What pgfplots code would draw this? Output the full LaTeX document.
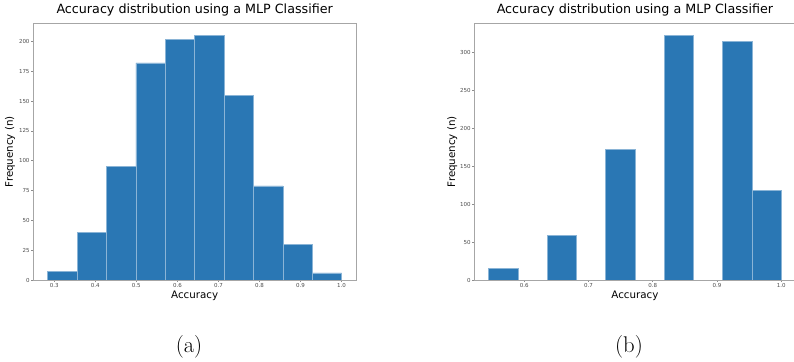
\documentclass[border=0pt]{standalone}
\usepackage{pgfplots}
\pgfplotsset{compat=1.18}
\usepackage{fontspec}
\newfontfamily\dejavu{DejaVu Sans}
\definecolor{barblue}{HTML}{2A77B4}
\begin{document}
\begin{tikzpicture}
\useasboundingbox (0bp,0bp) rectangle (794bp,362bp);
\pgfplotsset{hist/.style={
  scale only axis, anchor=south west, height=256.7bp, ymin=0,
  axis line style={black!35, line width=0.9bp},
  tick style={black!45, line width=0.6bp},
  tick align=outside, major tick length=1.8bp, tick pos=left,
  scaled ticks=false,
  /pgf/number format/assume math mode=true,
  ticklabel style={font=\dejavu\fontsize{5.5bp}{6bp}\selectfont, text=black!70, inner sep=1.5bp},
  xticklabel style={/pgf/number format/fixed, /pgf/number format/fixed zerofill, /pgf/number format/precision=1},
  yticklabel style={/pgf/number format/fixed, /pgf/number format/precision=0},
  title style={at={(axis description cs:0.5,1.013)}, anchor=base, inner sep=0pt, font=\dejavu\fontsize{12.7bp}{15bp}\selectfont},
  xlabel style={at={(axis description cs:0.5,-0.074)}, anchor=base, inner sep=0pt, font=\dejavu\fontsize{10.3bp}{12bp}\selectfont},
  ylabel style={anchor=base, inner sep=0pt, font=\dejavu\fontsize{10.3bp}{12bp}\selectfont},
  title={Accuracy distribution using a MLP Classifier},
  xlabel={Accuracy}, ylabel={Frequency (n)},
}}
\begin{axis}[hist, at={(33bp,82bp)}, width=323.3bp,
  xmin=0.2482, xmax=1.0358, ymax=215.25,
  xtick={0.3,0.4,...,1.0}, ytick={0,25,...,200},
  ylabel style={at={(axis description cs:-0.062,0.5)}}]
\addplot[ybar interval, fill=barblue, draw=barblue!55!white, line width=0.45bp] coordinates {
(0.284,7) (0.3556,40) (0.4272,95) (0.4988,182) (0.5704,202) (0.642,205) (0.7136,155) (0.7852,79) (0.8568,30) (0.9284,6) (1.0,0)};
\end{axis}
\begin{axis}[hist, at={(474bp,82bp)}, width=321.8bp,
  xmin=0.5216, xmax=1.0228, ymax=338.1,
  xtick={0.6,0.7,...,1.0}, ytick={0,50,...,300},
  ylabel style={at={(axis description cs:-0.059,0.5)}}]
\addplot[ybar interval, fill=barblue, draw=barblue!55!white, line width=0.45bp] coordinates {
(0.5444,15) (0.5900,0) (0.6355,59) (0.6811,0) (0.7266,172) (0.7722,0) (0.8178,322) (0.8633,0) (0.9089,314) (0.9544,118) (1.0,0)};
\end{axis}
\node[anchor=base, inner sep=0pt, font=\fontsize{22.7bp}{26bp}\selectfont] at (189bp,9.4bp) {(a)};
\node[anchor=base, inner sep=0pt, font=\fontsize{22.7bp}{26bp}\selectfont] at (629bp,9.4bp) {(b)};
\end{tikzpicture}
\end{document}
